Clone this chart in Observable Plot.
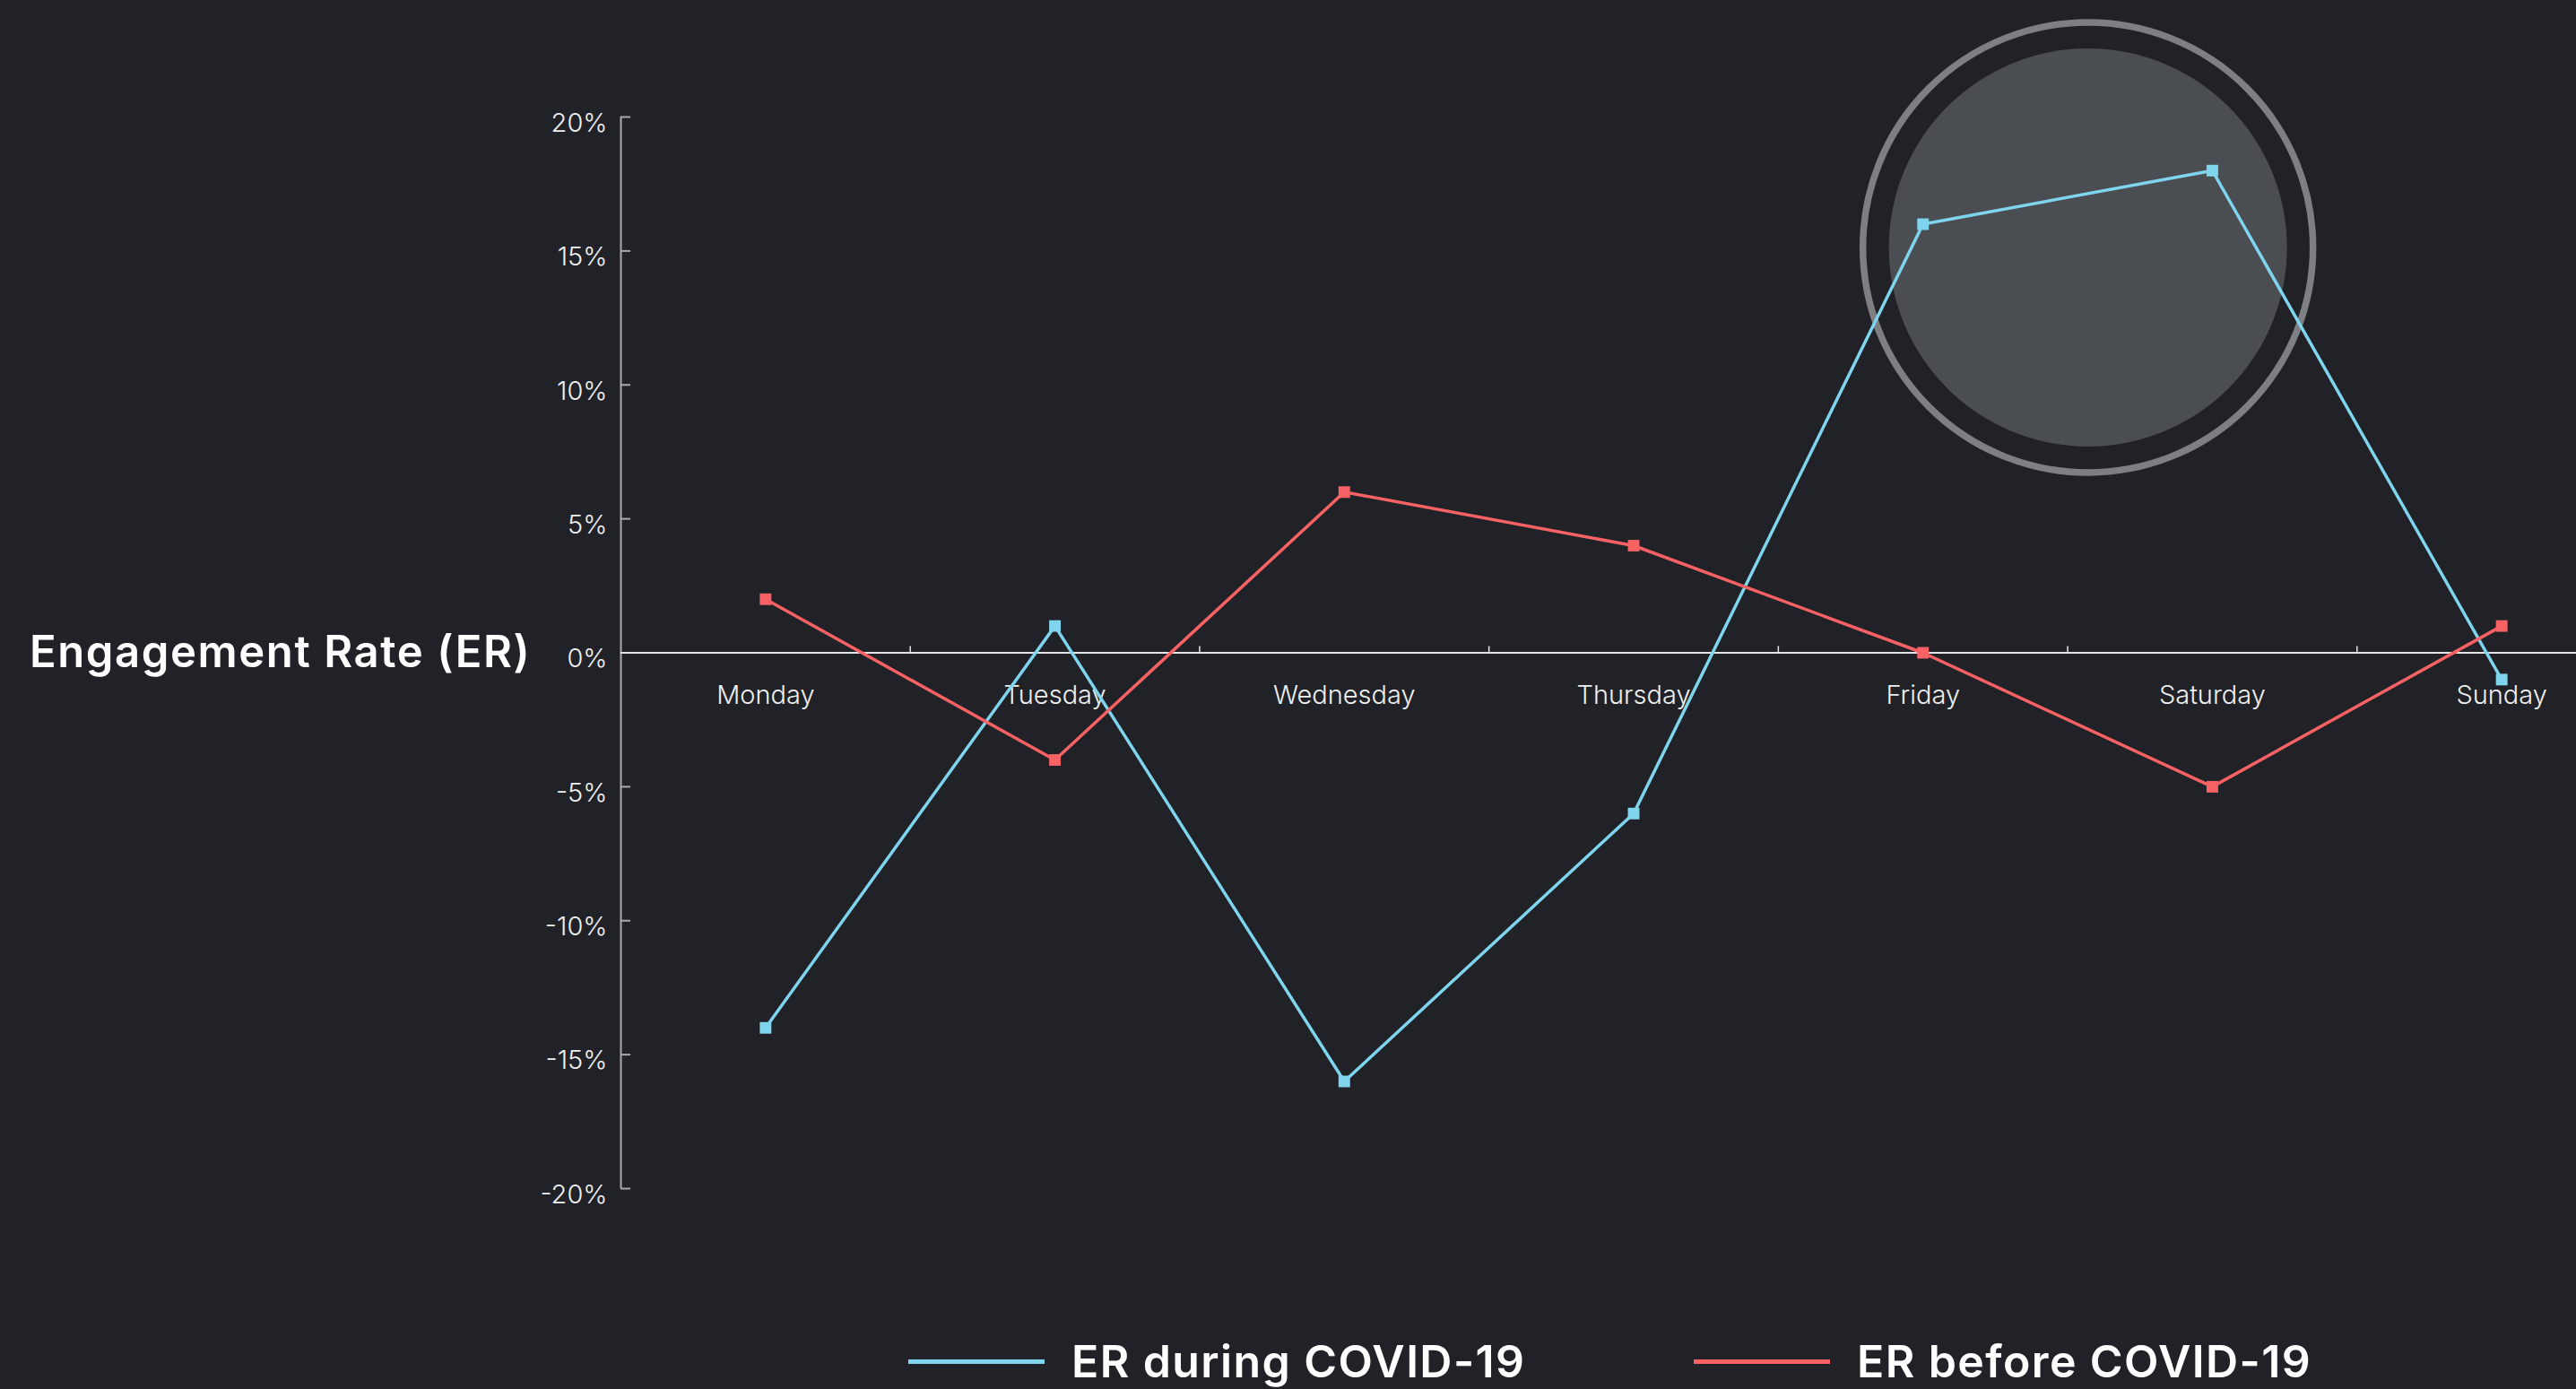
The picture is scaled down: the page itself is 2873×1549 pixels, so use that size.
<!DOCTYPE html>
<html>
<head>
<meta charset="utf-8">
<script src="https://cdn.jsdelivr.net/npm/d3@7"></script>
<script src="https://cdn.jsdelivr.net/npm/@observablehq/plot@0.6"></script>
<style>
  html, body { margin: 0; padding: 0; background: #202227; width: 2873px; height: 1549px; overflow: hidden; }
  #chart { position: absolute; left: 0; top: 0; }
  .legend-item { position: absolute; top: 1488px; display: flex; align-items: center; font-family: Inter, "Noto Sans", sans-serif; font-weight: 600; font-size: 50px; letter-spacing: 1.4px; color: #ffffff; white-space: nowrap; }
  .legend-swatch { width: 152px; height: 5px; margin-right: 30px; }
</style>
</head>
<body>
<div id="chart"></div>
<div class="legend-item" style="left:1013px"><span class="legend-swatch" style="background:#7fd4ee"></span>ER during COVID-19</div>
<div class="legend-item" style="left:1889px"><span class="legend-swatch" style="background:#f96265"></span>ER before COVID-19</div>
<script>
const days = ["Monday", "Tuesday", "Wednesday", "Thursday", "Friday", "Saturday", "Sunday"];
const erDuring = [-14, 1, -16, -6, 16, 18, -1];
const erBefore = [2, -4, 6, 4, 0, -5, 1];
const yTicks = [20, 15, 10, 5, 0, -5, -10, -15, -20];
const highlight = [{x: 4.57, y: 15.13}];
const titleText = "Engagement Rate (ER)";

const xDomain = [-0.5, days.length - 0.5];
const yDomain = [-20, 20];
const blue = "#7fd4ee";
const red = "#f96265";
const labelFont = "Inter, Roboto, sans-serif";

const during = days.map((d, i) => ({i, v: erDuring[i]}));
const before = days.map((d, i) => ({i, v: erBefore[i]}));
const boundaries = days.slice(1).map((d, i) => i + 0.5);

const chart = Plot.plot({
  width: 2873,
  height: 1470,
  marginLeft: 692,
  marginRight: 0,
  marginTop: 130,
  marginBottom: 145,
  style: {background: "transparent", overflow: "visible"},
  x: {type: "linear", domain: xDomain, range: [692, 2951], axis: null},
  y: {domain: yDomain, axis: null},
  marks: [
    // highlight circle
    Plot.dot(highlight, {x: "x", y: "y", r: 251, fill: "none", stroke: "#7e7f82", strokeWidth: 7.5}),
    Plot.dot(highlight, {x: "x", y: "y", r: 222, fill: "#4a4e52", stroke: "none"}),
    // y axis line & ticks
    Plot.ruleX([xDomain[0]], {x: d => d, y1: yDomain[0], y2: yDomain[1], stroke: "#a9a9ab", strokeWidth: 2}),
    Plot.ruleY(yTicks, {y: d => d, x1: xDomain[0], x2: xDomain[0], insetRight: -11, stroke: "#a9a9ab", strokeWidth: 2}),
    Plot.text(yTicks, {y: d => d, text: d => d + "%", frameAnchor: "left", dx: -15, dy: 7, textAnchor: "end", fill: "#f0f0f0", fontSize: 29, fontFamily: labelFont, fontWeight: 300}),
    // x axis line & boundary ticks
    Plot.ruleY([0], {stroke: "#e6e6e6", strokeWidth: 2}),
    Plot.ruleX(boundaries, {x: d => d, y1: 0, y2: 0, insetTop: -7, stroke: "#e6e6e6", strokeWidth: 1.5}),
    Plot.text(days, {x: (d, i) => i, y: () => 0, text: d => d, dy: 48, fill: "#f0f0f0", fontSize: 29, fontFamily: labelFont, fontWeight: 300}),
    // title
    Plot.text([0], {y: d => d, text: () => titleText, frameAnchor: "left", dx: -100, textAnchor: "end", fill: "#ffffff", fontSize: 49, fontFamily: "Inter, sans-serif", fontWeight: 600}),
    // series
    Plot.line(during, {x: "i", y: "v", stroke: blue, strokeWidth: 3.5}),
    Plot.dot(during, {x: "i", y: "v", symbol: "square", r: 7.3, fill: blue}),
    Plot.line(before, {x: "i", y: "v", stroke: red, strokeWidth: 3.5}),
    Plot.dot(before, {x: "i", y: "v", symbol: "square", r: 7.3, fill: red})
  ]
});
d3.select(chart).selectAll("text").filter(function() { return this.textContent === titleText; }).attr("letter-spacing", 1.6);
document.getElementById("chart").appendChild(chart);
</script>
</body>
</html>
